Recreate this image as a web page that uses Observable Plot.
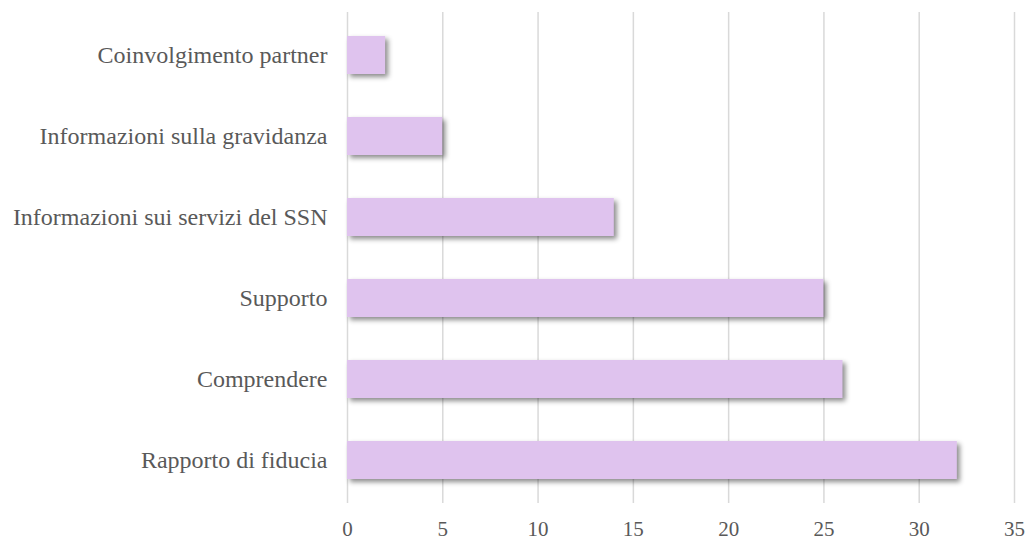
<!DOCTYPE html>
<html>
<head>
<meta charset="utf-8">
<script src="https://cdn.jsdelivr.net/npm/d3@7"></script>
<script src="https://cdn.jsdelivr.net/npm/@observablehq/plot@0.6"></script>
<style>
  html, body { margin: 0; padding: 0; background: #fff; }
  #chart svg { display: block; font-family: "Liberation Serif", "Times New Roman", serif !important; }
  #chart svg text { font-family: "Liberation Serif", "Times New Roman", serif !important; }
</style>
</head>
<body>
<div id="chart"></div>
<script>
const categories = [
  "Coinvolgimento partner",
  "Informazioni sulla gravidanza",
  "Informazioni sui servizi del SSN",
  "Supporto",
  "Comprendere",
  "Rapporto di fiducia"
];
const values = [2, 5, 14, 25, 26, 32];
const xTicks = [0, 5, 10, 15, 20, 25, 30, 35];

const data = categories.map((c, i) => ({category: c, value: values[i]}));

const chart = Plot.plot({
  width: 1025,
  height: 542,
  marginLeft: 347,
  marginRight: 11,
  marginTop: 12,
  marginBottom: 39,
  style: "font-family: 'Liberation Serif', 'Times New Roman', serif; background: #fff;",
  x: {domain: [0, 35], ticks: xTicks, label: null},
  y: {domain: categories, paddingInner: 0.535, paddingOuter: 0.2675, label: null},
  marks: [
    Plot.gridX(xTicks, {stroke: "#d9d9d9", strokeOpacity: 1, strokeWidth: 1.5}),
    Plot.barX(data, {x: "value", y: "category", fill: "#dfc3ee"}),
    Plot.axisX({ticks: xTicks, tickSize: 0, tickPadding: 18, fontSize: 21, label: null, fill: "#595959"}),
    Plot.axisY({tickSize: 0, tickPadding: 20, fontSize: 24, label: null, fill: "#595959"})
  ]
});

d3.select(chart).selectAll("g[aria-label='bar'] rect")
  .style("filter", "drop-shadow(3px 3px 2.5px rgba(0,0,0,0.45))");

document.getElementById("chart").appendChild(chart);
</script>
</body>
</html>
